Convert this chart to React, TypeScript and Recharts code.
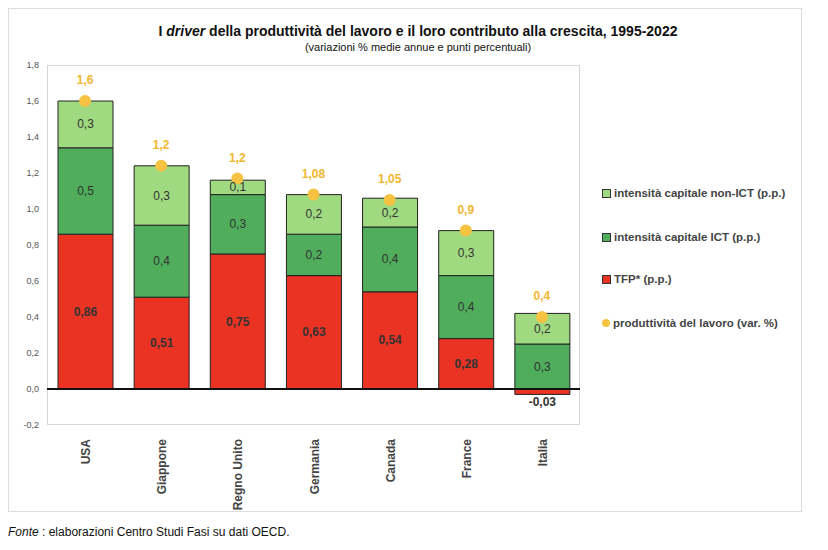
import React from 'react';
import { ComposedChart, Bar, Scatter, XAxis, YAxis, ReferenceLine, LabelList } from 'recharts';

const countries = ['USA', 'Giappone', 'Regno Unito', 'Germania', 'Canada', 'France', 'Italia'];
const tfp = [0.86, 0.51, 0.75, 0.63, 0.54, 0.28, -0.03];
const ict = [0.48, 0.40, 0.33, 0.23, 0.36, 0.35, 0.25];
const nonIct = [0.26, 0.33, 0.08, 0.22, 0.16, 0.25, 0.17];
const productivity = [1.6, 1.24, 1.17, 1.08, 1.05, 0.88, 0.4];

const tfpLabels = ['0,86', '0,51', '0,75', '0,63', '0,54', '0,28', '-0,03'];
const ictLabels = ['0,5', '0,4', '0,3', '0,2', '0,4', '0,4', '0,3'];
const nonIctLabels = ['0,3', '0,3', '0,1', '0,2', '0,2', '0,3', '0,2'];
const productivityLabels = ['1,6', '1,2', '1,2', '1,08', '1,05', '0,9', '0,4'];
const yTicks = [-0.2, 0, 0.2, 0.4, 0.6, 0.8, 1.0, 1.2, 1.4, 1.6, 1.8];

const data = countries.map((name, i) => ({
  name,
  tfp: tfp[i],
  ict: ict[i],
  nonIct: nonIct[i],
  prod: productivity[i],
  tfpLbl: tfpLabels[i],
  ictLbl: ictLabels[i],
  nonIctLbl: nonIctLabels[i],
  prodLbl: productivityLabels[i],
}));

const FONT = '"Liberation Sans", Arial, sans-serif';
const RED = '#EA3323';
const GREEN = '#4FAD5B';
const LIGHT = '#A0DA80';
const ORANGE = '#F5C242';

const segLabel = (bold: boolean, tfpMode = false) => (props: any) => {
  const { x, y, width, height, value, index } = props;
  const neg = tfpMode && tfp[index] < 0;
  const h = Number(height);
  const cy = neg ? Math.max(Number(y), Number(y) + h) + 12 : Number(y) + h / 2 + 4;
  return (
    <text x={Number(x) + Number(width) / 2} y={cy} textAnchor="middle" fontSize={12}
      fontWeight={bold ? 700 : 400} fill="#333" fontFamily={FONT}>
      {value}
    </text>
  );
};

const XTick = ({ x, y, payload }: any) => (
  <text x={x} y={y + 6} transform={`rotate(-90 ${x} ${y + 6})`} textAnchor="end" dy={5}
    fontSize={12} fontWeight={700} fill="#444" fontFamily={FONT}>
    {payload.value}
  </text>
);

const legend = [
  { label: 'intensità capitale non-ICT (p.p.)', color: LIGHT, top: 179 },
  { label: 'intensità capitale ICT (p.p.)', color: GREEN, top: 223 },
  { label: 'TFP* (p.p.)', color: RED, top: 265 },
  { label: 'produttività del lavoro (var. %)', color: ORANGE, top: 309, dot: true },
];

export default function App() {
  return (
    <div style={{ position: 'relative', width: 812, height: 540, fontFamily: FONT }}>
      <div style={{ position: 'absolute', left: 0, top: 0, width: 792, height: 502, border: '1px solid #ddd' }} />
      <div style={{ position: 'absolute', left: 0, top: 15, width: 820, textAlign: 'center', fontSize: 14, fontWeight: 700, color: '#111' }}>
        I <i>driver</i> della produttività del lavoro e il loro contributo alla crescita, 1995-2022
      </div>
      <div style={{ position: 'absolute', left: 0, top: 33, width: 820, textAlign: 'center', fontSize: 11, color: '#111' }}>
        (variazioni % medie annue e punti percentuali)
      </div>
      <div style={{ position: 'absolute', left: 39, top: 57, width: 533, height: 360, border: '1px solid #d6d6d6', boxSizing: 'border-box' }} />
      <div style={{ position: 'absolute', left: 0, top: 0 }}>
        <ComposedChart width={600} height={512} data={data} stackOffset="sign"
          margin={{ top: 57, right: 28, left: 9, bottom: 12 }}>
          <XAxis dataKey="name" axisLine={false} tickLine={false} height={83} interval={0} tick={<XTick />} />
          <YAxis domain={[-0.2, 1.8]} ticks={yTicks} width={30} axisLine={false} tickLine={false}
            tickFormatter={(v: number) => v.toFixed(1).replace('.', ',')}
            tick={{ fontSize: 9, fill: '#555', fontFamily: FONT }} />
          <Bar dataKey="tfp" stackId="a" fill={RED} stroke="#222" strokeWidth={1} barSize={55} isAnimationActive={false}>
            <LabelList dataKey="tfpLbl" content={segLabel(true, true)} />
          </Bar>
          <Bar dataKey="ict" stackId="a" fill={GREEN} stroke="#222" strokeWidth={1} barSize={55} isAnimationActive={false}>
            <LabelList dataKey="ictLbl" content={segLabel(false)} />
          </Bar>
          <Bar dataKey="nonIct" stackId="a" fill={LIGHT} stroke="#222" strokeWidth={1} barSize={55} isAnimationActive={false}>
            <LabelList dataKey="nonIctLbl" content={segLabel(false)} />
          </Bar>
          <ReferenceLine y={0} stroke="#111" strokeWidth={2} />
          <Scatter dataKey="prod" fill={ORANGE} isAnimationActive={false}
            shape={(p: any) => <circle cx={p.cx} cy={p.cy} r={6} fill={ORANGE} />}>
            <LabelList dataKey="prodLbl" position="top" offset={12} fill="#F2B630" fontSize={12} fontWeight={700} fontFamily={FONT} />
          </Scatter>
        </ComposedChart>
      </div>
      {legend.map((l) => (
        <div key={l.label} style={{ position: 'absolute', left: 594, top: l.top, fontSize: 11.5, fontWeight: 700, color: '#444', display: 'flex', alignItems: 'center' }}>
          <span style={{ display: 'inline-block', width: 7, height: 7, marginRight: 3, background: l.color,
            border: l.dot ? 'none' : '1px solid #333', borderRadius: l.dot ? '50%' : 0, ...(l.dot ? { width: 8, height: 8 } : {}) }} />
          {l.label}
        </div>
      ))}
      <div style={{ position: 'absolute', left: 0, top: 517, fontSize: 12, color: '#111' }}>
        <i>Fonte</i> : elaborazioni Centro Studi Fasi su dati OECD.
      </div>
    </div>
  );
}
